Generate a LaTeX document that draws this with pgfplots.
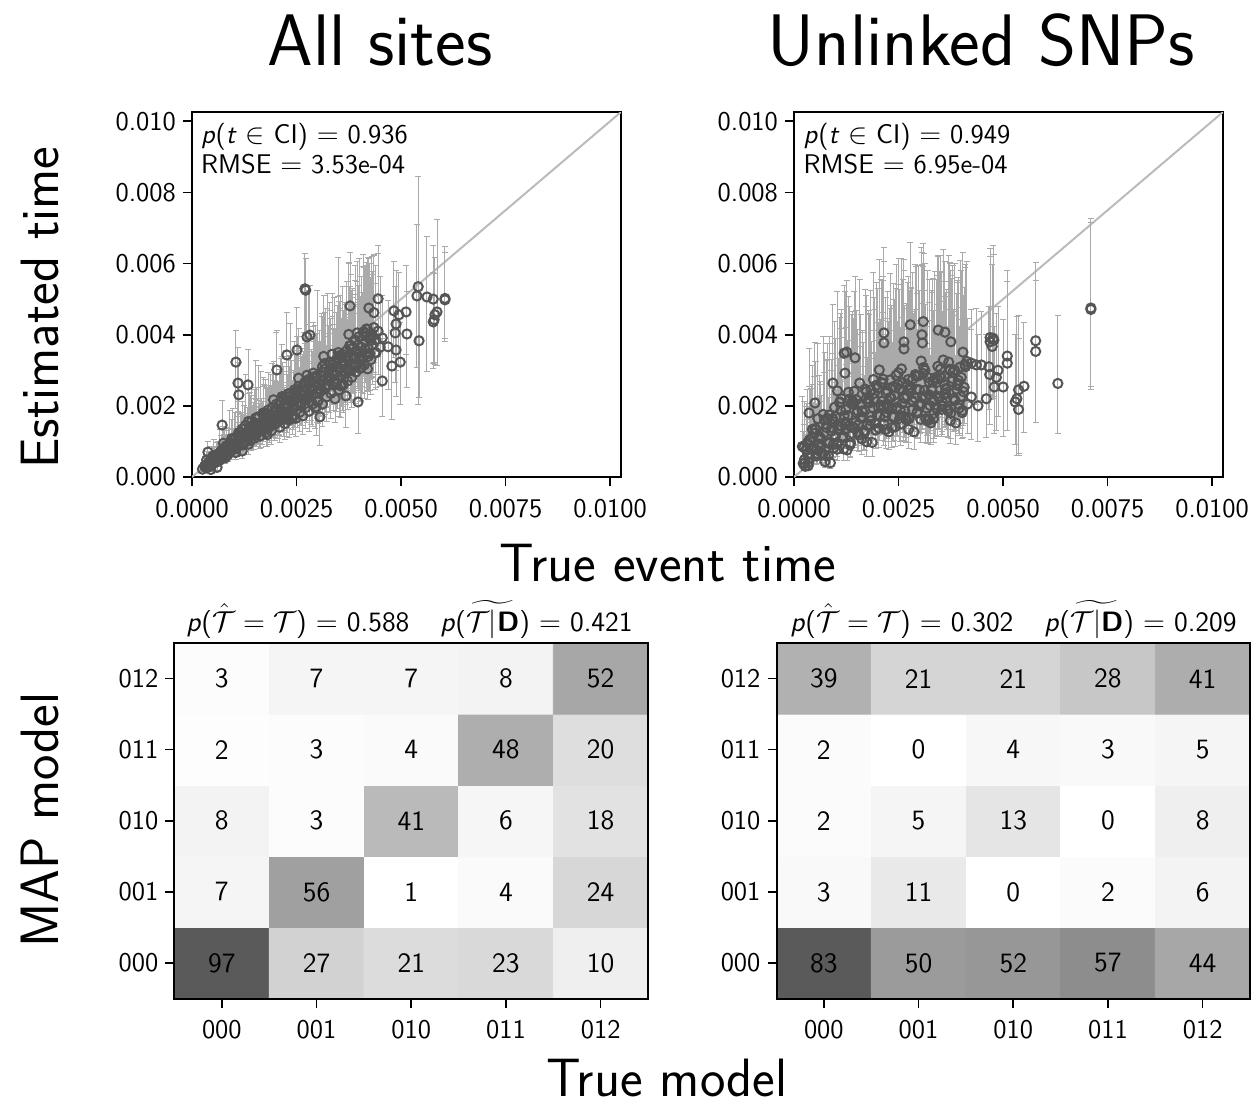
\documentclass[border=0pt]{standalone}
\usepackage{amsmath,amssymb}
\usepackage{xcolor}
\usepackage{pgfplots}
\usepackage{pgfplotstable}
\pgfplotsset{compat=1.18}
\renewcommand{\familydefault}{\sfdefault}

\definecolor{markgrey}{HTML}{555555}
\definecolor{errgrey}{HTML}{AAAAAA}
\definecolor{diaggrey}{HTML}{BBBBBB}

\newcommand{\lab}{\fontsize{13.5}{16}\selectfont}

% times in units of 1e-3: x = true time, y = estimate, ep/em = CI above/below
\pgfplotstableread{
x y ep em
0.25 0.22 0.12 0.07
0.30 0.30 0.25 0.09
0.33 0.26 0.18 0.08
0.38 0.36 0.35 0.11
0.40 0.42 0.26 0.13
0.42 0.33 0.18 0.10
0.46 0.47 0.40 0.14
0.50 0.40 0.28 0.12
0.52 0.55 0.50 0.17
0.55 0.48 0.30 0.14
0.58 0.62 0.35 0.19
0.60 0.52 0.44 0.16
0.63 0.58 0.41 0.17
0.66 0.68 0.66 0.20
0.68 0.55 0.35 0.17
0.70 0.74 0.42 0.22
0.72 0.63 0.53 0.19
0.75 0.80 0.56 0.24
0.78 0.66 0.65 0.20
0.80 0.72 0.45 0.22
0.82 0.88 0.50 0.26
0.85 0.62 0.52 0.19
0.88 0.80 0.56 0.24
0.90 0.95 0.93 0.29
0.92 0.72 0.45 0.22
0.95 0.86 0.48 0.26
0.98 1.05 0.88 0.32
1.00 0.78 0.55 0.23
1.02 0.92 0.90 0.28
1.05 1.12 0.70 0.34
1.08 0.85 0.48 0.26
1.10 1.00 0.84 0.30
1.12 1.25 0.88 0.38
1.15 0.90 0.88 0.27
1.18 1.08 0.68 0.32
1.20 1.35 0.76 0.40
1.22 0.95 0.80 0.29
1.25 1.18 0.83 0.35
1.28 1.45 1.42 0.44
1.30 1.02 0.64 0.31
1.32 1.25 0.70 0.38
1.35 0.92 0.77 0.28
1.38 1.40 0.98 0.42
1.40 1.15 1.13 0.35
1.42 1.55 0.98 0.47
1.45 1.28 0.72 0.38
1.48 1.08 0.91 0.32
1.50 1.45 1.02 0.44
1.52 1.65 1.62 0.50
1.55 1.22 0.77 0.37
1.58 1.38 0.77 0.41
1.60 1.70 1.43 0.51
1.62 1.15 0.81 0.35
1.65 1.50 1.47 0.45
1.68 1.30 0.82 0.39
1.70 1.80 1.01 0.54
1.72 1.42 1.19 0.43
1.75 1.62 1.13 0.49
1.78 1.25 1.23 0.38
1.80 1.55 0.98 0.47
1.82 1.88 1.05 0.56
1.85 1.40 1.18 0.42
1.88 1.70 1.19 0.51
1.90 1.30 1.27 0.39
1.92 1.95 1.23 0.59
1.95 1.60 0.90 0.48
1.98 1.48 1.24 0.44
2.00 1.82 1.05 0.55
2.02 2.05 2.01 0.62
2.05 1.55 0.90 0.47
2.08 1.72 0.96 0.52
2.10 1.40 0.85 0.42
2.12 2.12 1.20 0.64
2.15 1.88 1.84 0.56
2.18 1.62 0.95 0.49
2.20 2.00 1.12 0.60
2.22 1.50 0.90 0.45
2.25 2.25 1.30 0.68
2.28 1.78 1.10 0.53
2.30 1.95 1.15 0.59
2.32 1.60 0.90 0.48
2.35 2.35 1.97 0.71
2.38 2.08 1.20 0.62
2.40 1.72 1.00 0.52
2.42 1.90 1.10 0.57
2.45 2.45 1.37 0.74
2.48 1.65 1.00 0.50
2.50 2.20 1.25 0.66
2.52 2.00 1.96 0.60
2.55 2.55 1.40 0.77
2.58 1.82 1.02 0.55
2.60 2.30 1.30 0.69
2.62 2.08 1.20 0.62
2.65 1.72 1.05 0.52
2.68 2.62 1.45 0.79
2.70 2.40 1.34 0.72
2.72 1.95 1.15 0.59
2.75 2.18 1.25 0.65
2.78 2.70 2.65 0.81
2.80 1.85 1.10 0.56
2.82 2.48 1.39 0.74
2.85 2.28 1.30 0.68
2.88 2.05 1.20 0.62
2.90 2.78 1.55 0.83
2.92 2.55 1.45 0.77
2.95 1.95 1.15 0.59
2.98 2.35 1.32 0.71
3.00 2.85 2.39 0.86
3.02 2.15 1.25 0.65
3.05 2.62 1.50 0.79
3.08 2.42 1.40 0.73
3.10 2.95 1.65 0.89
3.12 2.05 1.20 0.62
3.15 2.70 1.55 0.81
3.18 2.50 1.45 0.75
3.20 3.05 1.70 0.92
3.22 2.25 1.26 0.68
3.25 2.80 2.35 0.84
3.28 2.58 1.45 0.77
3.30 3.15 1.75 0.95
3.32 2.35 1.35 0.71
3.35 2.90 1.62 0.87
3.38 2.68 1.50 0.80
3.40 3.25 1.80 0.98
3.42 2.20 1.25 0.66
3.45 2.98 1.65 0.89
3.48 2.75 1.54 0.83
3.50 3.35 2.81 1.01
3.52 2.45 1.40 0.74
3.55 3.05 1.70 0.92
3.58 2.85 1.60 0.86
3.60 3.45 1.90 1.04
3.62 2.60 1.45 0.78
3.65 3.15 1.75 0.95
3.68 2.92 1.65 0.88
3.70 3.55 1.95 1.07
3.72 2.70 1.51 0.81
3.75 3.28 2.76 0.98
3.78 3.00 1.70 0.90
3.80 3.70 2.00 1.11
3.82 2.80 1.60 0.84
3.85 3.40 1.90 1.02
3.88 3.10 1.75 0.93
3.90 3.85 2.10 1.16
3.92 2.95 1.65 0.89
3.95 3.55 1.95 1.07
3.98 3.20 1.79 0.96
4.00 3.95 2.20 1.19
4.02 3.05 1.70 0.92
4.05 3.65 2.00 1.10
4.08 3.35 1.85 1.01
4.10 4.05 2.20 1.22
4.12 3.15 1.75 0.95
4.15 3.80 2.10 1.14
4.18 3.45 1.90 1.04
4.20 4.15 2.01 1.25
4.22 3.60 2.00 1.08
4.25 3.90 2.10 1.17
4.28 3.30 1.85 0.99
4.30 4.00 2.20 1.20
4.32 3.70 2.00 1.11
4.35 4.20 2.05 1.26
4.38 3.50 1.95 1.05
4.40 3.85 2.10 1.16
4.45 4.10 2.17 1.23
4.50 3.65 2.00 1.10
0.35 0.48 0.24 0.14
0.45 0.21 0.11 0.06
0.55 0.58 0.29 0.17
0.65 0.46 0.23 0.14
0.75 0.95 0.48 0.28
0.85 0.72 0.36 0.22
0.95 1.08 0.54 0.32
1.05 0.69 0.35 0.21
1.15 1.14 0.57 0.34
1.25 0.96 0.48 0.29
1.35 1.56 0.78 0.47
1.45 1.25 0.62 0.37
1.55 1.67 0.84 0.50
1.65 1.17 0.58 0.35
1.75 1.71 0.86 0.51
1.85 1.46 0.73 0.44
1.95 2.17 1.08 0.65
2.05 1.77 0.88 0.53
2.15 2.26 1.13 0.68
2.25 1.65 0.82 0.50
2.35 2.27 1.14 0.68
2.45 1.97 0.98 0.59
2.55 2.78 1.39 0.83
2.65 2.30 1.15 0.69
2.75 2.86 1.43 0.86
2.85 2.13 1.06 0.64
2.95 2.83 1.42 0.85
3.05 2.47 1.24 0.74
3.15 3.39 1.70 1.02
3.25 2.83 1.42 0.85
3.35 3.45 1.72 1.04
3.45 2.61 1.30 0.78
3.55 3.40 1.70 1.02
3.65 2.98 1.49 0.89
3.75 4.01 2.00 1.20
3.85 3.36 1.68 1.01
3.95 4.05 2.02 1.22
4.05 3.09 1.54 0.93
4.15 3.96 1.98 1.19
4.25 3.48 1.74 1.04
4.35 4.62 1.60 1.39
0.40 0.28 0.13 0.08
0.50 0.59 0.27 0.17
0.60 0.27 0.12 0.08
0.70 0.65 0.29 0.18
0.80 0.54 0.24 0.15
0.90 0.94 0.42 0.26
1.00 0.80 0.36 0.22
1.10 1.17 0.53 0.33
1.20 0.73 0.33 0.20
1.30 1.20 0.54 0.34
1.40 1.03 0.46 0.29
1.50 1.52 0.68 0.43
1.60 1.32 0.59 0.37
1.70 1.75 0.79 0.49
1.80 1.19 0.54 0.33
1.90 1.74 0.78 0.49
2.00 1.52 0.68 0.43
2.10 2.09 0.94 0.59
2.20 1.83 0.82 0.51
2.30 2.34 1.05 0.66
2.40 1.65 0.74 0.46
2.50 2.29 1.03 0.64
2.60 2.01 0.90 0.56
2.70 2.66 1.20 0.74
2.80 2.35 1.06 0.66
2.90 2.92 1.31 0.82
3.00 2.12 0.95 0.59
3.10 2.84 1.28 0.80
3.20 2.50 1.12 0.70
3.30 3.23 1.45 0.90
3.40 2.86 1.29 0.80
3.50 3.50 1.58 0.98
3.60 2.58 1.16 0.72
3.70 3.38 1.52 0.95
3.80 3.00 1.35 0.84
3.90 3.81 1.71 1.07
4.00 3.38 1.52 0.95
4.10 4.08 1.84 1.14
4.20 3.04 1.37 0.85
4.30 3.93 1.77 1.10
4.40 3.49 1.57 0.98
0.32 0.32 0.14 0.09
0.42 0.30 0.14 0.08
0.52 0.57 0.26 0.16
0.62 0.54 0.24 0.15
0.72 0.52 0.23 0.15
0.82 0.81 0.36 0.23
0.92 0.83 0.37 0.23
1.02 0.86 0.39 0.24
1.12 1.18 0.53 0.33
1.22 0.90 0.41 0.25
1.32 1.23 0.55 0.34
1.42 1.16 0.52 0.32
1.52 1.51 0.68 0.42
1.62 1.43 0.64 0.40
1.72 1.37 0.62 0.38
1.82 1.74 0.78 0.49
1.92 1.73 0.78 0.48
2.02 1.73 0.78 0.48
2.12 2.14 0.96 0.60
2.22 1.73 0.78 0.48
2.32 2.15 0.97 0.60
2.42 2.02 0.91 0.57
2.52 2.46 1.11 0.69
2.62 2.33 1.05 0.65
2.72 2.21 0.99 0.62
2.82 2.68 1.21 0.75
2.92 2.63 1.18 0.74
3.02 2.61 1.17 0.73
3.12 3.10 1.40 0.87
3.22 2.56 1.15 0.72
3.32 3.07 1.38 0.86
3.42 2.88 1.30 0.81
3.52 3.41 1.53 0.95
3.62 3.22 1.45 0.90
3.72 3.06 1.38 0.86
3.82 3.61 1.62 1.01
3.92 3.53 1.59 0.99
4.02 3.49 1.57 0.98
4.12 4.07 1.83 1.14
4.22 3.39 1.53 0.95
4.32 3.98 1.79 1.11
0.37 0.30 0.14 0.08
0.47 0.50 0.23 0.14
0.57 0.41 0.18 0.11
0.67 0.62 0.28 0.17
0.77 0.82 0.37 0.23
0.87 0.71 0.32 0.20
0.97 0.93 0.42 0.26
1.07 0.80 0.36 0.22
1.17 1.25 0.56 0.35
1.27 1.14 0.51 0.32
1.37 1.19 0.54 0.33
1.47 1.44 0.65 0.40
1.57 1.27 0.57 0.36
1.67 1.53 0.69 0.43
1.77 1.78 0.80 0.50
1.87 1.58 0.71 0.44
1.97 1.86 0.84 0.52
2.07 1.63 0.73 0.46
2.17 2.22 1.00 0.62
2.27 2.04 0.92 0.57
2.37 2.07 0.93 0.58
2.47 2.38 1.07 0.67
2.57 2.12 0.95 0.59
2.67 2.44 1.10 0.68
2.77 2.73 1.23 0.76
2.87 2.44 1.10 0.68
2.97 2.78 1.25 0.78
3.07 2.47 1.11 0.69
3.17 3.19 1.44 0.89
3.27 2.94 1.32 0.82
3.37 2.95 1.33 0.83
3.47 3.32 1.49 0.93
3.57 2.97 1.34 0.83
3.67 3.34 1.50 0.94
3.77 3.69 1.66 1.03
3.87 3.31 1.49 0.93
3.97 3.70 1.67 1.04
4.07 3.31 1.49 0.93
4.17 4.16 1.87 1.16
4.27 3.84 1.73 1.08
2.70 5.29 1.00 3.50
2.72 5.25 0.90 3.00
5.41 5.35 3.10 3.30
5.38 5.09 2.00 2.00
5.62 5.06 1.70 2.10
5.77 5.00 1.50 1.80
6.05 4.98 1.50 1.10
6.05 5.02 1.30 1.20
5.86 4.64 2.60 1.50
5.81 4.56 1.60 1.40
5.79 4.42 1.30 1.20
5.77 4.36 1.40 1.30
5.43 3.83 1.40 1.60
5.14 4.02 1.20 1.50
4.86 4.05 1.30 1.40
4.88 4.30 1.50 1.30
5.12 4.64 1.30 1.20
4.95 4.56 1.20 1.40
4.83 4.67 1.40 1.30
4.98 3.23 1.10 1.20
4.78 3.12 1.00 1.50
4.55 2.70 1.20 1.00
4.88 3.57 1.20 1.30
4.69 3.66 1.30 1.20
4.55 3.91 1.20 1.30
4.45 5.01 1.50 1.30
4.23 4.75 1.40 1.20
3.78 4.81 1.50 1.40
3.97 2.11 1.20 0.90
3.68 2.28 1.40 0.90
3.06 1.69 1.20 0.80
3.56 2.56 1.30 0.90
2.97 1.97 1.20 0.80
2.75 3.94 1.30 1.20
2.82 3.99 1.40 1.10
1.05 3.23 0.90 1.30
1.10 2.64 1.00 1.10
1.34 2.59 1.00 1.00
1.12 2.31 0.90 0.90
0.72 1.46 0.70 0.50
0.38 0.70 0.30 0.30
2.27 3.43 1.20 1.00
2.51 3.57 1.20 1.00
2.03 3.01 1.10 0.90
}\allsites

\pgfplotstableread{
x y ep em
0.20 0.86 1.40 0.34
0.25 0.49 1.00 0.20
0.30 0.76 1.30 0.30
0.35 0.41 0.90 0.17
0.40 0.99 1.50 0.40
0.45 0.78 1.30 0.31
0.50 1.36 1.90 0.55
0.55 0.66 1.20 0.27
0.60 1.15 1.70 0.46
0.65 0.89 1.40 0.36
0.70 1.76 2.20 0.70
0.75 0.60 1.10 0.24
0.80 1.64 2.10 0.66
0.85 0.98 1.50 0.39
0.90 1.39 1.90 0.56
0.95 0.82 1.30 0.33
1.00 1.70 2.20 0.68
1.05 1.33 1.80 0.53
1.10 2.11 2.50 0.84
1.15 1.09 1.60 0.44
1.20 1.72 2.20 0.69
1.25 1.35 1.80 0.54
1.30 2.38 2.70 0.95
1.35 0.96 1.50 0.38
1.40 2.14 2.50 0.86
1.45 1.37 1.80 0.55
1.50 1.80 2.20 0.72
1.55 1.18 1.70 0.47
1.60 2.06 2.50 0.82
1.65 1.69 2.10 0.68
1.70 2.47 2.80 0.99
1.75 1.45 1.90 0.58
1.80 2.08 2.50 0.83
1.85 1.71 2.10 0.68
1.90 2.74 3.00 1.10
1.95 1.32 1.80 0.53
2.00 2.50 2.80 1.00
2.05 1.71 2.10 0.68
2.10 2.13 2.50 0.85
2.15 1.49 1.90 0.60
2.20 2.35 2.70 0.94
2.25 1.96 2.40 0.78
2.30 2.73 3.00 1.09
2.35 1.69 2.10 0.68
2.40 2.30 2.70 0.92
2.45 1.91 2.30 0.76
2.50 2.93 3.20 1.17
2.55 1.49 1.90 0.60
2.60 2.65 2.90 1.06
2.65 1.86 2.30 0.74
2.70 2.28 2.60 0.91
2.75 1.64 2.10 0.66
2.80 2.50 2.80 1.00
2.85 2.11 2.50 0.84
2.90 2.88 3.10 1.15
2.95 1.84 2.30 0.74
3.00 2.45 2.80 0.98
3.05 2.06 2.40 0.82
3.10 3.08 3.20 1.23
3.15 1.64 2.10 0.66
3.20 2.80 3.00 1.12
3.25 2.01 2.40 0.80
3.30 2.43 2.80 0.97
3.35 1.79 2.20 0.72
3.40 2.65 2.90 1.06
3.45 2.26 2.60 0.90
3.50 3.03 3.20 1.21
3.55 1.99 2.40 0.80
3.60 2.60 2.90 1.04
3.65 2.21 2.50 0.88
3.70 3.23 3.00 1.29
3.75 1.79 2.20 0.72
3.80 2.95 3.00 1.18
3.85 2.16 2.50 0.86
3.90 2.58 2.90 1.03
3.95 1.94 2.30 0.78
4.00 2.80 3.00 1.12
4.05 2.40 2.70 0.96
4.10 3.10 2.80 1.24
4.15 2.05 2.40 0.82
0.22 0.38 0.90 0.15
0.32 0.96 1.50 0.38
0.42 0.79 1.30 0.32
0.52 1.35 1.90 0.54
0.62 0.83 1.30 0.33
0.72 1.24 1.70 0.50
0.82 0.60 1.10 0.24
0.92 1.65 2.10 0.66
1.02 0.96 1.50 0.38
1.12 1.87 2.30 0.75
1.22 1.48 1.90 0.59
1.32 2.19 2.60 0.88
1.42 1.40 1.80 0.56
1.52 1.86 2.30 0.74
1.62 1.07 1.60 0.43
1.72 2.18 2.60 0.87
1.82 1.44 1.90 0.58
1.92 2.35 2.70 0.94
2.02 1.95 2.40 0.78
2.12 2.63 2.90 1.05
2.22 1.81 2.20 0.72
2.32 2.23 2.60 0.89
2.42 1.41 1.80 0.56
2.52 2.48 2.80 0.99
2.62 1.71 2.10 0.68
2.72 2.58 2.90 1.03
2.82 2.16 2.50 0.86
2.92 2.83 3.10 1.13
3.02 2.01 2.40 0.80
3.12 2.43 2.80 0.97
3.22 1.61 2.00 0.64
3.32 2.68 2.90 1.07
3.42 1.91 2.30 0.76
3.52 2.78 3.00 1.11
3.62 2.36 2.70 0.94
3.72 3.03 3.00 1.21
3.82 2.21 2.50 0.88
3.92 2.63 2.90 1.05
4.02 1.81 2.20 0.72
0.27 0.30 0.80 0.12
0.37 1.05 1.50 0.42
0.47 0.77 1.30 0.31
0.57 1.64 2.10 0.66
0.67 0.67 1.20 0.27
0.77 1.39 1.90 0.56
0.87 0.40 0.90 0.16
0.97 1.96 2.40 0.78
1.07 1.44 1.90 0.58
1.17 1.15 1.60 0.46
1.27 0.76 1.30 0.30
1.37 2.07 2.50 0.83
1.47 1.53 2.00 0.61
1.57 2.64 2.90 1.06
1.67 1.30 1.80 0.52
1.77 2.11 2.50 0.84
1.87 0.97 1.50 0.39
1.97 2.58 2.90 1.03
2.07 2.02 2.40 0.81
2.17 1.69 2.10 0.68
2.27 1.27 1.70 0.51
2.37 2.54 2.90 1.02
2.47 1.97 2.40 0.79
2.57 3.04 3.10 1.22
2.67 1.67 2.10 0.67
2.77 2.44 2.80 0.98
2.87 1.27 1.70 0.51
2.97 2.84 3.10 1.14
3.07 2.27 2.60 0.91
3.17 1.94 2.30 0.78
3.27 1.52 1.90 0.61
3.37 2.79 3.00 1.12
3.47 2.22 2.60 0.89
3.57 3.29 3.10 1.32
3.67 1.92 2.30 0.77
3.77 2.69 2.90 1.08
3.87 1.52 1.90 0.61
3.97 3.09 3.00 1.24
4.07 2.52 2.80 1.01
0.24 0.83 1.30 0.33
0.34 0.32 0.80 0.13
0.44 1.34 1.80 0.54
0.54 0.76 1.30 0.30
0.64 1.08 1.60 0.43
0.74 0.43 0.90 0.17
0.84 1.74 2.20 0.70
0.94 0.91 1.40 0.36
1.04 2.42 2.80 0.97
1.14 1.43 1.90 0.57
1.24 1.89 2.30 0.76
1.34 0.90 1.40 0.36
1.44 2.41 2.80 0.96
1.54 1.47 1.90 0.59
1.64 1.83 2.30 0.73
1.74 0.99 1.50 0.40
1.84 2.45 2.80 0.98
1.94 1.51 2.00 0.60
2.04 3.01 3.10 1.20
2.14 1.99 2.40 0.80
2.24 2.41 2.80 0.96
2.34 1.39 1.80 0.56
2.44 2.86 3.10 1.14
2.54 1.89 2.30 0.76
2.64 2.21 2.60 0.88
2.74 1.34 1.80 0.54
2.84 2.76 3.00 1.10
2.94 1.79 2.20 0.72
3.04 3.26 3.20 1.30
3.14 2.24 2.60 0.90
3.24 2.66 2.90 1.06
3.34 1.64 2.10 0.66
3.44 3.11 3.10 1.24
3.54 2.14 2.50 0.86
3.64 2.46 2.80 0.98
3.74 1.59 2.00 0.64
3.84 3.01 3.00 1.20
3.94 2.04 2.40 0.82
4.04 3.51 2.80 1.40
0.29 0.78 1.20 0.31
0.39 0.54 1.00 0.22
0.49 1.23 1.60 0.49
0.59 0.93 1.30 0.37
0.69 0.64 1.10 0.26
0.79 1.47 1.80 0.59
0.89 1.29 1.70 0.52
0.99 1.15 1.50 0.46
1.09 2.09 2.40 0.84
1.19 0.79 1.20 0.32
1.29 1.73 2.10 0.69
1.39 1.23 1.60 0.49
1.49 2.17 2.50 0.87
1.59 1.67 2.00 0.67
1.69 1.25 1.60 0.50
1.79 2.19 2.50 0.88
1.89 1.93 2.20 0.77
1.99 1.75 2.10 0.70
2.09 2.66 2.90 1.06
2.19 1.33 1.70 0.53
2.29 2.23 2.50 0.89
2.39 1.70 2.00 0.68
2.49 2.60 2.80 1.04
2.59 2.07 2.40 0.83
2.69 1.61 2.00 0.64
2.79 2.52 2.80 1.01
2.89 2.22 2.50 0.89
2.99 2.01 2.30 0.80
3.09 2.91 3.00 1.16
3.19 1.58 1.90 0.63
3.29 2.48 2.70 0.99
3.39 1.95 2.30 0.78
3.49 2.85 2.90 1.14
3.59 2.32 2.60 0.93
3.69 1.86 2.20 0.74
3.79 2.77 2.90 1.11
3.89 2.47 2.70 0.99
3.99 2.26 2.50 0.90
4.09 3.16 2.80 1.26
0.33 0.63 1.00 0.25
0.43 1.10 1.50 0.44
0.53 0.59 1.00 0.24
0.63 1.09 1.50 0.44
0.73 1.60 1.90 0.64
0.83 0.94 1.30 0.38
0.93 1.56 1.90 0.62
1.03 0.78 1.20 0.31
1.13 2.20 2.50 0.88
1.23 1.54 1.90 0.62
1.33 1.44 1.80 0.58
1.43 2.06 2.40 0.82
1.53 1.24 1.60 0.50
1.63 1.86 2.20 0.74
1.73 2.40 2.70 0.96
1.83 1.58 1.90 0.63
1.93 2.20 2.50 0.88
2.03 1.37 1.70 0.55
2.13 2.75 2.90 1.10
2.23 2.06 2.40 0.82
2.33 1.92 2.20 0.77
2.43 2.51 2.80 1.00
2.53 1.65 2.00 0.66
2.63 2.24 2.50 0.90
2.73 2.74 2.90 1.10
2.83 1.89 2.20 0.76
2.93 2.47 2.70 0.99
3.03 1.62 2.00 0.65
3.13 3.00 3.00 1.20
3.23 2.31 2.60 0.92
3.33 2.17 2.50 0.87
3.43 2.76 2.90 1.10
3.53 1.90 2.20 0.76
3.63 2.49 2.70 1.00
3.73 2.99 3.00 1.20
3.83 2.14 2.40 0.86
3.93 2.72 2.90 1.09
4.03 1.87 2.20 0.75
4.13 3.25 2.80 1.30
1.26 3.51 2.00 1.20
1.20 3.48 1.90 1.10
1.46 3.35 2.30 1.20
2.15 4.05 2.40 1.40
2.15 3.77 2.30 1.30
2.78 4.28 2.30 1.50
3.09 4.37 2.20 1.50
3.06 4.00 2.30 1.40
3.07 3.77 2.20 1.30
3.45 4.13 2.10 1.40
3.61 4.07 2.00 1.40
3.75 3.80 2.00 1.30
2.63 3.80 2.30 1.30
2.63 3.60 2.20 1.20
0.36 1.80 1.80 0.60
0.50 2.08 1.70 0.70
0.26 0.39 0.80 0.15
0.93 2.64 2.20 0.90
1.22 2.92 2.30 1.00
4.24 3.20 1.50 1.10
4.36 3.15 1.60 1.10
4.48 3.15 1.50 1.00
4.66 3.10 1.70 1.20
4.88 3.00 1.80 1.30
4.69 3.92 2.50 1.60
4.69 3.80 2.40 1.50
4.74 3.67 2.30 1.50
4.76 3.90 2.60 1.70
4.78 3.85 2.40 1.60
4.68 2.88 1.90 1.40
4.84 2.80 1.80 1.50
4.79 2.53 1.70 1.30
5.00 2.53 1.90 1.40
5.10 3.40 2.40 2.10
5.10 3.20 2.30 1.90
4.24 2.25 1.90 1.20
4.40 2.00 2.00 1.00
4.60 2.20 1.80 1.10
5.29 2.11 1.90 1.20
5.33 2.20 2.30 1.60
5.37 1.90 2.00 1.30
5.37 2.45 2.10 1.80
5.50 2.55 1.80 1.30
5.78 3.83 2.20 2.30
5.78 3.53 2.00 2.00
6.31 2.63 1.90 1.40
7.10 4.71 2.57 2.26
7.10 4.75 2.40 2.20
}\unlinked

% confusion counts: column = true model, row = MAP model
\pgfplotstableread{
x y c
0 0 97
1 0 27
2 0 21
3 0 23
4 0 10
0 1 7
1 1 56
2 1 1
3 1 4
4 1 24
0 2 8
1 2 3
2 2 41
3 2 6
4 2 18
0 3 2
1 3 3
2 3 4
3 3 48
4 3 20
0 4 3
1 4 7
2 4 7
3 4 8
4 4 52
}\confall

\pgfplotstableread{
x y c
0 0 83
1 0 50
2 0 52
3 0 57
4 0 44
0 1 3
1 1 11
2 1 0
3 1 2
4 1 6
0 2 2
1 2 5
2 2 13
3 2 0
4 2 8
0 3 2
1 3 0
2 3 4
3 3 3
4 3 5
0 4 39
1 4 21
2 4 21
3 4 28
4 4 41
}\confunl

\pgfplotsset{
  /pgf/number format/assume math mode=true,
  colormap={greys}{rgb255=(255,255,255) rgb255=(90,90,90)},
  mybase/.style={
    scale only axis,
    axis line style={line width=1pt},
    tick align=outside,
    major tick length=4.5pt,
    every tick/.style={black, line width=0.8pt},
    tick label style={font=\lab},
    xticklabel style={yshift=-3pt},
    xtick pos=bottom, ytick pos=left,
  },
  myscat/.style={
    mybase,
    width=214.5pt, height=182.5pt,
    xmin=0, xmax=10.26, ymin=0, ymax=10.26,
    xtick={0,2.5,5,7.5,10},
    xticklabels={0.0000,0.0025,0.0050,0.0075,0.0100},
    ytick={0,2,4,6,8,10},
    yticklabels={0.000,0.002,0.004,0.006,0.008,0.010},
  },
  myconf/.style={
    mybase,
    width=236.75pt, height=177.75pt,
    xmin=-0.5, xmax=4.5, ymin=-0.5, ymax=4.5,
    xtick={0,...,4}, ytick={0,...,4},
    xticklabels={000,001,010,011,012},
    yticklabels={000,001,010,011,012},
    axis on top,
  },
  mypts/.style={
    only marks, mark=o,
    mark size=2.3pt,
    mark options={draw=markgrey, line width=1pt},
    error bars/.cd, y dir=both, y explicit,
    error bar style={errgrey, line width=0.5pt},
    error mark options={errgrey, line width=0.5pt, mark size=1.5pt, rotate=90},
  },
  mycells/.style={
    matrix plot*, mesh/cols=5, point meta=explicit,
    nodes near coords={\pgfmathprintnumber{\pgfplotspointmeta}},
    nodes near coords style={anchor=center, font=\fontsize{14}{16}\selectfont, black},
  },
}

\begin{document}
\begin{tikzpicture}
\path[use as bounding box] (0,0) rectangle (629pt,-552pt);

\begin{axis}[myscat, at={(96pt,-56pt)}, anchor=north west]
\addplot[diaggrey, line width=1pt] coordinates {(0,0) (10.26,10.26)};
\addplot[mypts] table[x=x, y=y, y error plus=ep, y error minus=em] {\allsites};
\end{axis}

\begin{axis}[myscat, at={(397pt,-56pt)}, anchor=north west]
\addplot[diaggrey, line width=1pt] coordinates {(0,0) (10.26,10.26)};
\addplot[mypts] table[x=x, y=y, y error plus=ep, y error minus=em] {\unlinked};
\end{axis}

\begin{axis}[myconf, at={(87.25pt,-321.5pt)}, anchor=north west,
  point meta min=1, point meta max=97]
\addplot[mycells] table[x=x, y=y, meta=c] {\confall};
\end{axis}

\begin{axis}[myconf, at={(388.25pt,-321.5pt)}, anchor=north west,
  point meta min=0, point meta max=83]
\addplot[mycells] table[x=x, y=y, meta=c] {\confunl};
\end{axis}

% in-panel statistics
\node[anchor=base west, inner sep=0pt, font=\lab] at (100.35pt,-71.65pt) {\textit{p}(\textit{t} $\in$ CI) $=$ 0.936};
\node[anchor=base west, inner sep=0pt, font=\lab] at (100.35pt,-86.65pt) {RMSE $=$ 3.53e-04};
\node[anchor=base west, inner sep=0pt, font=\lab] at (401.65pt,-71.65pt) {\textit{p}(\textit{t} $\in$ CI) $=$ 0.949};
\node[anchor=base west, inner sep=0pt, font=\lab] at (401.65pt,-86.65pt) {RMSE $=$ 6.95e-04};

\node[anchor=base, font=\fontsize{14}{16}\selectfont] at (204.75pt,-315.5pt)
  {\textit{p}($\hat{\mathcal{T}} = \mathcal{T}$) $=$ 0.588\hspace{1.1em}\textit{p}($\widetilde{\mathcal{T}|\textbf{D}}$) $=$ 0.421};
\node[anchor=base, font=\fontsize{14}{16}\selectfont] at (506.75pt,-315.5pt)
  {\textit{p}($\hat{\mathcal{T}} = \mathcal{T}$) $=$ 0.302\hspace{1.1em}\textit{p}($\widetilde{\mathcal{T}|\textbf{D}}$) $=$ 0.209};

% column titles and shared labels
\node[anchor=base, font=\fontsize{36.5}{40}\selectfont] at (190pt,-32.5pt) {All sites};
\node[anchor=base, font=\fontsize{36.5}{40}\selectfont] at (490.75pt,-32.5pt) {Unlinked SNPs};
\node[anchor=base, rotate=90, font=\fontsize{27}{30}\selectfont] at (29pt,-153.75pt) {Estimated time};
\node[anchor=base, rotate=90, font=\fontsize{27}{30}\selectfont] at (29pt,-410pt) {MAP model};
\node[anchor=base, font=\fontsize{27}{30}\selectfont] at (334pt,-290.5pt) {True event time};
\node[anchor=base, font=\fontsize{27}{30}\selectfont] at (333.5pt,-548pt) {True model};
\end{tikzpicture}
\end{document}
